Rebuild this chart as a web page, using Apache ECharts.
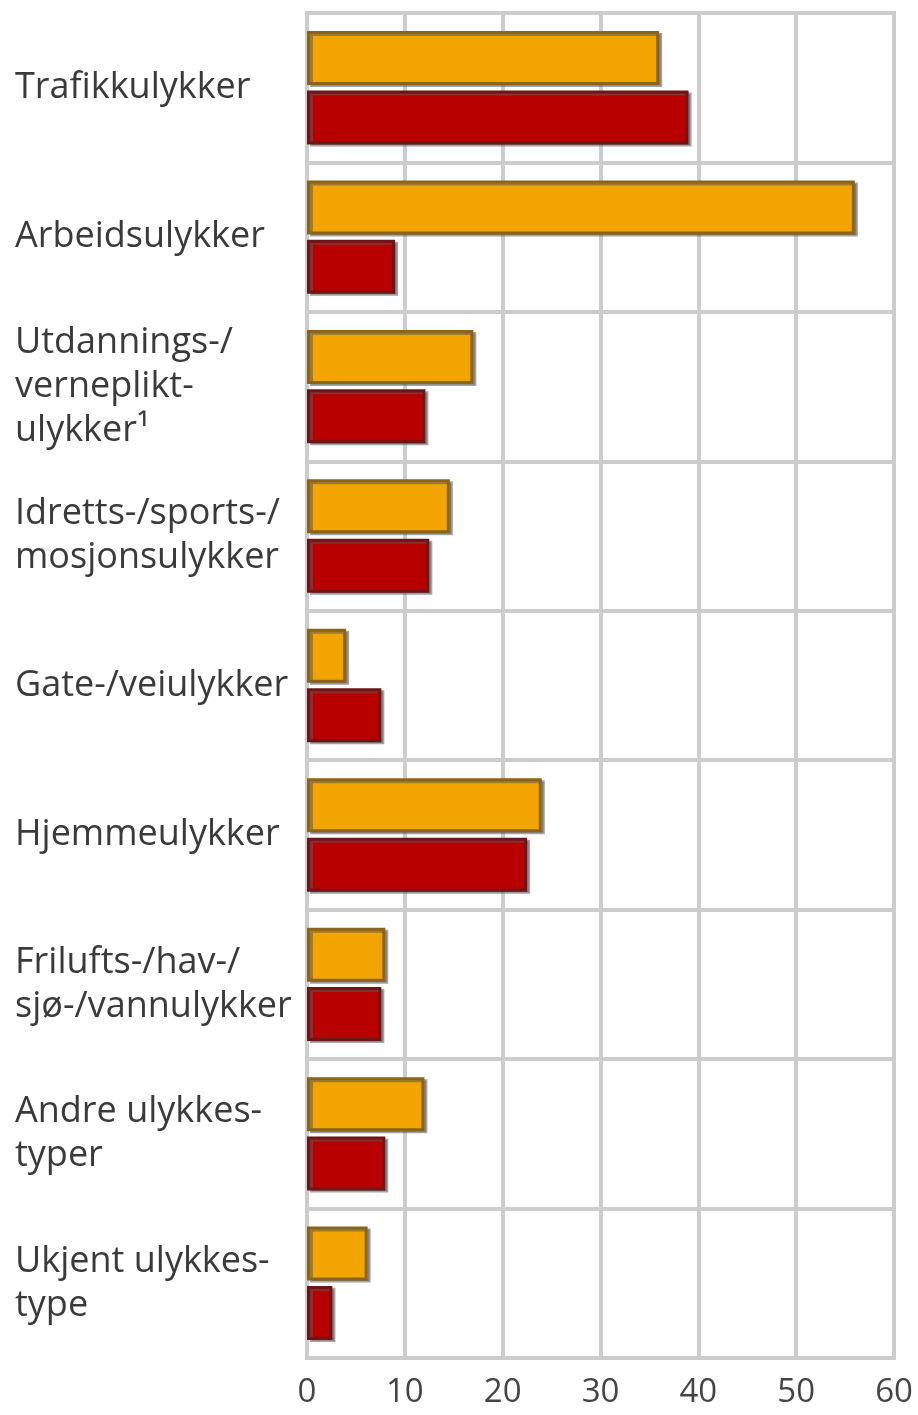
<!DOCTYPE html>
<html>
<head>
<meta charset="utf-8">
<script src="https://cdn.jsdelivr.net/npm/echarts@6/dist/echarts.min.js"></script>
<style>
  html, body { margin: 0; padding: 0; background: #fff; }
  #main { width: 918px; height: 1415px; }
</style>
</head>
<body>
<div id="main"></div>
<script>
const categories = [
  "Trafikkulykker",
  "Arbeidsulykker",
  "Utdannings-/\nverneplikt-\nulykker\u00b9",
  "Idretts-/sports-/\nmosjonsulykker",
  "Gate-/veiulykker",
  "Hjemmeulykker",
  "Frilufts-/hav-/\nsjø-/vannulykker",
  "Andre ulykkes-\ntyper",
  "Ukjent ulykkes-\ntype",
];
const orangeValues = [36, 56, 17, 14.6, 4, 24, 8, 12, 6.2];
const redValues = [39, 9, 12.1, 12.5, 7.6, 22.5, 7.6, 8, 2.6];
const xTicks = [0, 10, 20, 30, 40, 50, 60];

const chart = echarts.init(document.getElementById("main"));

const barStyle = (fill, edge) => ({
  color: fill,
  borderColor: edge,
  borderWidth: 3,
  shadowColor: "rgba(90,90,90,0.55)",
  shadowOffsetX: 3,
  shadowOffsetY: 2,
  shadowBlur: 0,
});

chart.setOption({
  animation: false,
  textStyle: { fontFamily: "Open Sans" },
  grid: {
    left: 307,
    right: 24,
    top: 13,
    bottom: 57,
    show: true,
    borderColor: "#cccccc",
    borderWidth: 4,
  },
  xAxis: {
    type: "value",
    min: xTicks[0],
    max: xTicks[xTicks.length - 1],
    interval: 10,
    axisLine: { show: false },
    axisTick: { show: false },
    axisLabel: {
      fontSize: 33,
      color: "#444",
      margin: 18,
    },
    splitLine: { lineStyle: { color: "#cccccc", width: 4 } },
  },
  yAxis: {
    type: "category",
    inverse: true,
    data: categories,
    axisLine: { show: false },
    axisTick: { show: false },
    axisLabel: {
      align: "left",
      margin: 292,
      fontSize: 36,
      lineHeight: 44,
      color: "#3a3a3a",
    },
    splitLine: { show: true, lineStyle: { color: "#cccccc", width: 4 } },
  },
  series: [
    {
      type: "bar",
      data: orangeValues,
      barWidth: 54,
      barGap: "10%",
      itemStyle: barStyle("#f2a500", "#8c6418"),
    },
    {
      type: "bar",
      data: redValues,
      barWidth: 54,
      itemStyle: barStyle("#b80000", "#6e1515"),
    },
  ],
});
</script>
</body>
</html>
